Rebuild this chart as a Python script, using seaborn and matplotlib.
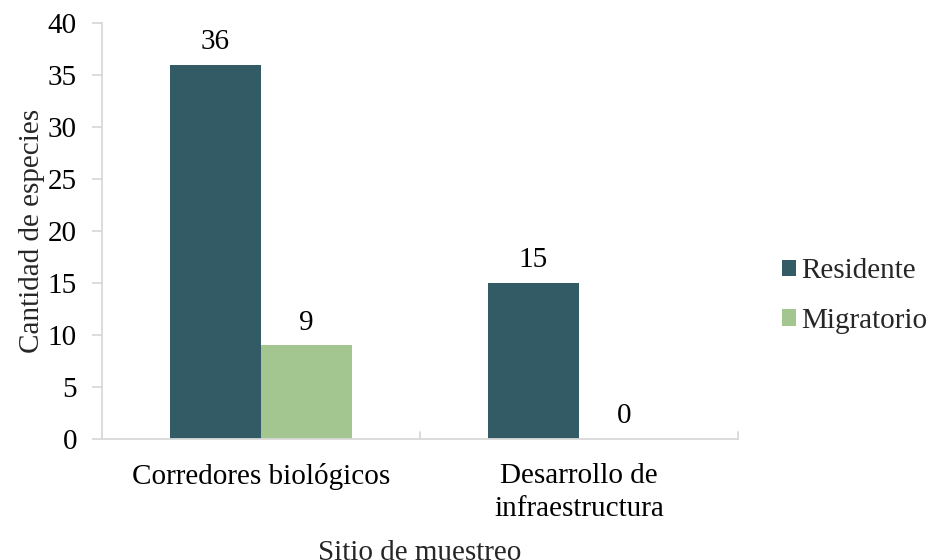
import matplotlib
matplotlib.use("Agg")
import matplotlib.pyplot as plt
import seaborn as sns
import pandas as pd

# Species counts per sampling site and status
sites = ["Corredores biológicos", "Desarrollo de\ninfraestructura"]
status = ["Residente", "Migratorio"]
residente = [36, 15]
migratorio = [9, 0]

df = pd.DataFrame({
    "Sitio": sites * 2,
    "Estado": [status[0]] * len(sites) + [status[1]] * len(sites),
    "Cantidad": residente + migratorio,
})

sns.set_theme(style="white")
plt.rcParams["font.family"] = ["Liberation Serif", "DejaVu Serif"]
FS = 21

fig = plt.figure(figsize=(9.32, 5.6), dpi=100)
ax = fig.add_axes([102 / 932, 1 - 439 / 560, 636 / 932, 416 / 560])

palette = {"Residente": "#335B66", "Migratorio": "#A3C58F"}
sns.barplot(data=df, x="Sitio", y="Cantidad", hue="Estado", order=sites,
            hue_order=status, palette=palette, width=0.572, saturation=1,
            ax=ax, legend=True, linewidth=0)

for cont in ax.containers:
    ax.bar_label(cont, labels=[f"{v:.0f}" for v in cont.datavalues],
                 padding=7, fontsize=FS, color="#000000")

ax.set_xlim(-0.5, 1.5)
ax.set_ylim(0, 40)
ax.set_yticks(range(0, 41, 5))
ax.tick_params(axis="y", labelsize=FS, colors="#D9D9D9", labelcolor="#000000",
               length=7, width=1.3, direction="out", pad=11, left=True)
ax.tick_params(axis="x", labelsize=FS, labelcolor="#000000", bottom=False,
               pad=11)
for lbl in ax.get_xticklabels():
    lbl.set_linespacing(1.35)

# category boundary ticks on the x axis
for xb in (-0.5, 0.5, 1.5):
    ax.plot([xb, xb], [0, 0.7], color="#D9D9D9", lw=1.3, clip_on=False)

for s in ("top", "right"):
    ax.spines[s].set_visible(False)
for s in ("left", "bottom"):
    ax.spines[s].set_color("#D9D9D9")
    ax.spines[s].set_linewidth(1.3)

ax.set_xlabel("Sitio de muestreo", fontsize=FS, labelpad=13)
ax.set_ylabel("Cantidad de especies", fontsize=FS, labelpad=2)

leg = ax.legend(loc="center left", bbox_to_anchor=(1.069, 0.344),
                frameon=False, fontsize=FS, handlelength=0.5,
                handleheight=0.5, handletextpad=0.15, labelspacing=0.8,
                borderpad=0, borderaxespad=0)

fig.savefig("out.png", dpi=100)
